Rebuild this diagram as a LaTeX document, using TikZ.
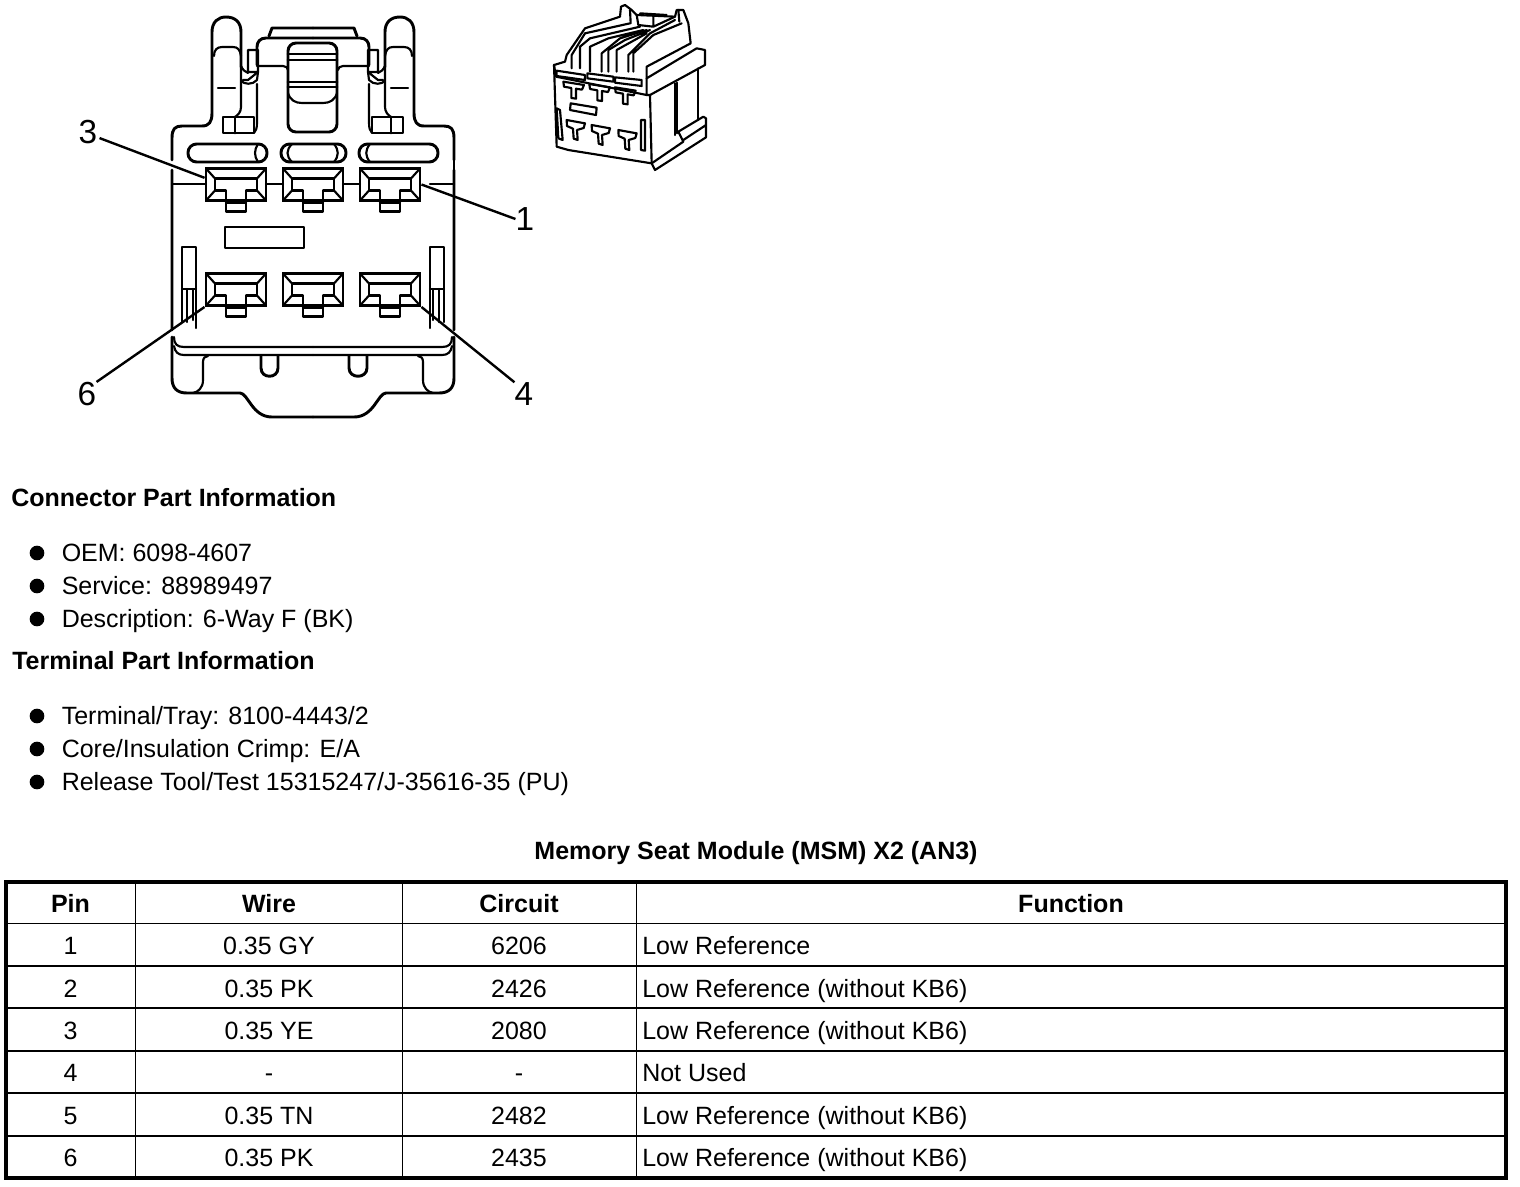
\documentclass[tikz,border=0pt]{standalone}
\usepackage{fontspec}
\setmainfont{Liberation Sans}
\tikzset{
	part/.style = {line width=2.2pt, line join=round, line cap=round},
	fine/.style = {line width=1.6pt, line join=round, line cap=round},
	leader/.style = {line width=1.8pt},
	termbox/.style = {draw, line width=2.2pt, rectangle, minimum width=45pt, minimum height=24pt, inner sep=0pt},
	pinlabel/.style = {font=\fontsize{25}{25}\selectfont, inner sep=0pt},
	heading/.style = {font=\fontsize{18.75}{20}\selectfont\bfseries, anchor=west, inner sep=0pt, text height=12.8pt, text depth=0pt},
	item/.style = {font=\fontsize{18.75}{20}\selectfont, anchor=west, inner sep=0pt, text height=12.8pt, text depth=0pt},
	dot/.style = {circle, fill, minimum size=11pt, inner sep=0pt},
	cell/.style = {font=\fontsize{18.75}{20}\selectfont, inner sep=0pt, text height=12.8pt, text depth=0pt},
	grid/.style = {line width=1.1pt},
	frame/.style = {line width=2.6pt},
}
% left half of the upper shell, also used mirrored
\newcommand{\shellside}{
	\draw[part] (172,160) -- (172,138) .. controls (172,129) and (175,126) .. (182,126)
		-- (202,126) .. controls (209,126) and (212,122) .. (212,113)
		-- (212,32) .. controls (212,22) and (218,17) .. (226,17)
		.. controls (235,17) and (241,22) .. (241,32) -- (241,67);
	\draw[fine] (214,56) .. controls (214,50) and (217,47) .. (222,47) -- (233,47)
		.. controls (238,47) and (240,50) .. (241,56);
	\draw[fine] (241,67) -- (241,107) .. controls (241,112) and (238,115) .. (235,117);
	\draw[fine] (218,88) -- (235,88);
	\draw[part] (223,117) rectangle (254,133) (235,117) -- (235,133);
	\draw[fine] (257,84) -- (257,123) .. controls (257,128) and (256,131) .. (254,133);
	\draw[fine] (241,66) .. controls (243,70) and (245,72) .. (248,73) (248,50) -- (258,50) -- (258,72)
		-- (248,80) -- (243,80) (248,50) -- (248,72) -- (258,72);
	\draw[fine] (241,80) .. controls (243,85) and (253,85) .. (257,80) -- (258,72);
	\draw[part] (257,65) -- (257,47) .. controls (257,42) and (260,38) .. (266,38) -- (313,38);
	\draw[part] (269,36) -- (272,28) -- (313,28);
	\draw[fine] (257,66) -- (283,66) .. controls (286,66) and (288,68) .. (288,70);
	% side slot and its clip
	\draw[fine] (196,328) -- (196,247) -- (182,247) -- (182,322);
	\draw[fine] (182,289) -- (196,289) (187,289) -- (187,322) (193,289) -- (193,320);
	% corner of the base and the recess
	\draw[part] (172,170) -- (172,330) (172,337) -- (172,378) .. controls (172,388) and (177,393) .. (187,393) -- (240,393)
		.. controls (248,393) and (252,417) .. (272,417) -- (313,417);
	\draw[fine] (174,337) .. controls (174,344) and (177,347) .. (184,347) -- (313,347);
	\draw[fine] (174,346) .. controls (175,352) and (178,355) .. (184,355) -- (313,355);
	\draw[fine] (193,393) .. controls (198,392) and (203,388) .. (203,380) -- (203,362)
		.. controls (203,358) and (205,356) .. (208,356);
}
\begin{document}
\begin{tikzpicture}[x=0.75pt, y=-0.75pt]
	\useasboundingbox[fill=white] (0,0) rectangle (1520,1186);

	% connector face
	\shellside
	\begin{scope}[shift={(626,0)}, xscale=-1]
		\shellside
	\end{scope}
	\draw[part] (454,158) -- (454,172);
	\draw[fine] (172,184) -- (206,184) (266,184) -- (283,184) (343,184) -- (360,184)
		(430,184) -- (454,184);
	\draw[part] (225,227) rectangle (304,248);
	% locks above the terminals
	\draw[part, rounded corners=6pt] (288,70) -- (288,132) -- (337,132) -- (337,43) -- (288,43) -- cycle;
	\draw[part] (288,54) -- (337,54) (288,60) -- (337,60) (288,82) -- (337,82) (288,87) -- (337,87);
	\draw[fine] (288,93) .. controls (290,100) and (295,103) .. (302,103) -- (323,103)
		.. controls (330,103) and (335,100) .. (337,93);
	\draw[part, rounded corners=6.5pt] (188,144) rectangle (267,162);
	\draw[part, rounded corners=6.5pt] (281,144) rectangle (346,162);
	\draw[part, rounded corners=6.5pt] (359,144) rectangle (438,162);
	\draw[fine] (258,144) .. controls (254,150) and (254,156) .. (258,162);
	\draw[fine] (292,144) .. controls (286,150) and (286,156) .. (292,162);
	\draw[fine] (334,144) .. controls (339,150) and (339,156) .. (334,162);
	\draw[fine] (370,144) .. controls (365,150) and (365,156) .. (370,162);
	% notches
	\draw[part] (261,356) -- (261,368) .. controls (261,379) and (278,379) .. (278,368) -- (278,356);
	\draw[part] (349,356) -- (349,368) .. controls (349,379) and (367,379) .. (367,368) -- (367,356);

	% terminals
	\foreach \pin/\x/\y in {3/236/184.5, 2/313/184.5, 1/390/184.5, 6/236/289.5, 5/313/289.5, 4/390/289.5} {
		\node[termbox] (term\pin) at (\x,\y) {};
		\begin{scope}[shift={(\x,\y)}]
			\draw[part] (-21,6) -- (-21,-6) -- (21,-6) -- (21,6) -- (10,6) -- (10,27) -- (-10,27) -- (-10,6) -- cycle;
			\draw[fine] (-10,18) -- (10,18);
			\draw[fine] (-30,-16) -- (-21,-6) (30,-16) -- (21,-6) (-30,16) -- (-21,6) (30,16) -- (21,6);
		\end{scope}
	}

	% pin numbers
	\node[pinlabel] (lab3) at (88,132) {3};
	\node[pinlabel] (lab1) at (525,219) {1};
	\node[pinlabel] (lab6) at (87,394) {6};
	\node[pinlabel] (lab4) at (524,394) {4};
	\draw[leader] (lab3.south east) ++(2,-6) -- (term3.168);
	\draw[leader] (term1.east) -- (lab1.west);
	\draw[leader] (term6.south west) -- (lab6.north east);
	\draw[leader] (term4.south east) -- (lab4.north west);

	% small view of the connector
	\begin{scope}[shift={(540,0)}, x=0.25pt, y=-0.25pt]
		\draw[fine] (42,195) -- (50,440) -- (85,450) -- (335,490) -- (345,510) -- (498,412) -- (498,355) -- (490,350) -- (415,395) -- (430,425) -- (335,490) (430,420) -- (498,375);
		\draw[fine] (42,195) -- (75,185) -- (80,165) -- (135,85) -- (240,50) -- (243,20) -- (255,15) -- (275,30) -- (290,45) -- (405,50) -- (410,30) -- (430,30) -- (445,70) -- (452,130) -- (320,200) -- (320,235) -- (470,145) -- (495,150) -- (495,195) -- (330,285) -- (335,490);
		\draw[fine] (42,195) -- (48,230) -- (320,285) -- (330,285) (320,235) -- (320,285);
		\draw[fine] (475,205) -- (475,360) (405,250) -- (405,405) (412,248) -- (412,400);
		\draw[fine] (95,205) -- (95,165) -- (135,100) -- (270,70) (120,205) -- (120,140) -- (150,115) -- (300,80);
		\draw[fine] (150,215) -- (150,140) -- (205,115) -- (310,90) (185,215) -- (185,160) -- (240,115) -- (320,90);
		\draw[fine] (205,215) -- (205,150) -- (255,120) -- (330,90) (230,215) -- (230,150) -- (320,100);
		\draw[fine] (265,215) -- (265,165) -- (330,100) -- (405,60) (280,215) -- (280,160) -- (340,105) -- (425,70);
		\draw[fine] (290,45) -- (295,75) -- (340,80) -- (405,50) (300,40) -- (380,45) (340,45) -- (340,80);
		\draw[fine] (270,30) -- (272,70) (415,30) -- (418,65);
		\draw[fine] (50,212) -- (135,225) -- (135,240) -- (50,228) -- cycle;
		\draw[fine] (142,220) -- (220,230) -- (220,245) -- (142,235) -- cycle;
		\draw[fine] (225,232) -- (305,240) -- (305,258) -- (225,248) -- cycle;
		\foreach \tabx/\taby in {70/245, 148/252, 225/262} {
			\draw[fine] (\tabx,\taby) -- ++(62,10) -- ++(-6,14) -- ++(-18,-3) -- ++(0,30) -- ++(-14,-2) -- ++(0,-30) -- ++(-22,-4) -- cycle;
		}
		\draw[fine] (92,310) -- (170,323) -- (168,345) -- (90,330) -- cycle;
		\foreach \tabx/\taby in {80/360, 155/375, 235/390} {
			\draw[fine] (\tabx,\taby) -- ++(55,10) -- ++(-4,14) -- ++(-20,6) -- ++(2,30) -- ++(-12,-4) -- ++(-2,-30) -- ++(-18,-8) -- cycle;
		}
		\draw[fine] (303,360) -- (315,360) -- (315,452) -- (303,450) -- cycle;
		\draw[fine] (50,325) -- (60,330) -- (68,420) -- (55,415) -- cycle;
	\end{scope}

	% part information
	\node[heading] (conninfo) at (11,498) {Connector Part Information};
	\node[heading] (terminfo) at (12,661) {Terminal Part Information};
	\foreach \n/\y/\txt in {1/553/{OEM: 6098-4607}, 2/586/{Service: 88989497}, 3/619/{Description: 6-Way F (BK)},
		4/716/{Terminal/Tray: 8100-4443/2}, 5/749/{Core/Insulation Crimp: E/A}, 6/782/{Release Tool/Test 15315247/J-35616-35 (PU)}} {
		\node[dot] (dot\n) at (37,\y) {};
		\node[item] (item\n) at (61.5,\y) {\txt};
	}

	% pin table
	\node[heading, anchor=center] (title) at (756,851) {Memory Seat Module (MSM) X2 (AN3)};
	\draw[frame] (6,882) rectangle (1506,1178);
	\foreach \y in {923.5, 966, 1008, 1051, 1093, 1136} {
		\draw[grid] (6,\y) -- (1506,\y);
	}
	\foreach \x in {135.5, 402.5, 636.5} {
		\draw[grid] (\x,882) -- (\x,1178);
	}
	\node[heading, anchor=center] (headpin) at (70.5,903.5) {Pin};
	\node[heading, anchor=center] (headwire) at (269,903.5) {Wire};
	\node[heading, anchor=center] (headcircuit) at (519,903.5) {Circuit};
	\node[heading, anchor=center] (headfunction) at (1071,903.5) {Function};
	\foreach \pin/\y/\wire/\circuit/\func in {
		1/946/0.35 GY/6206/Low Reference,
		2/988.5/0.35 PK/2426/Low Reference (without KB6),
		3/1031/0.35 YE/2080/Low Reference (without KB6),
		4/1073/-/-/Not Used,
		5/1115.5/0.35 TN/2482/Low Reference (without KB6),
		6/1158/0.35 PK/2435/Low Reference (without KB6)} {
		\node[cell] (pin\pin) at (70.5,\y) {\pin};
		\node[cell] (wire\pin) at (269,\y) {\wire};
		\node[cell] (circuit\pin) at (519,\y) {\circuit};
		\node[cell, anchor=west] (func\pin) at (642,\y) {\func};
	}
\end{tikzpicture}
\end{document}
